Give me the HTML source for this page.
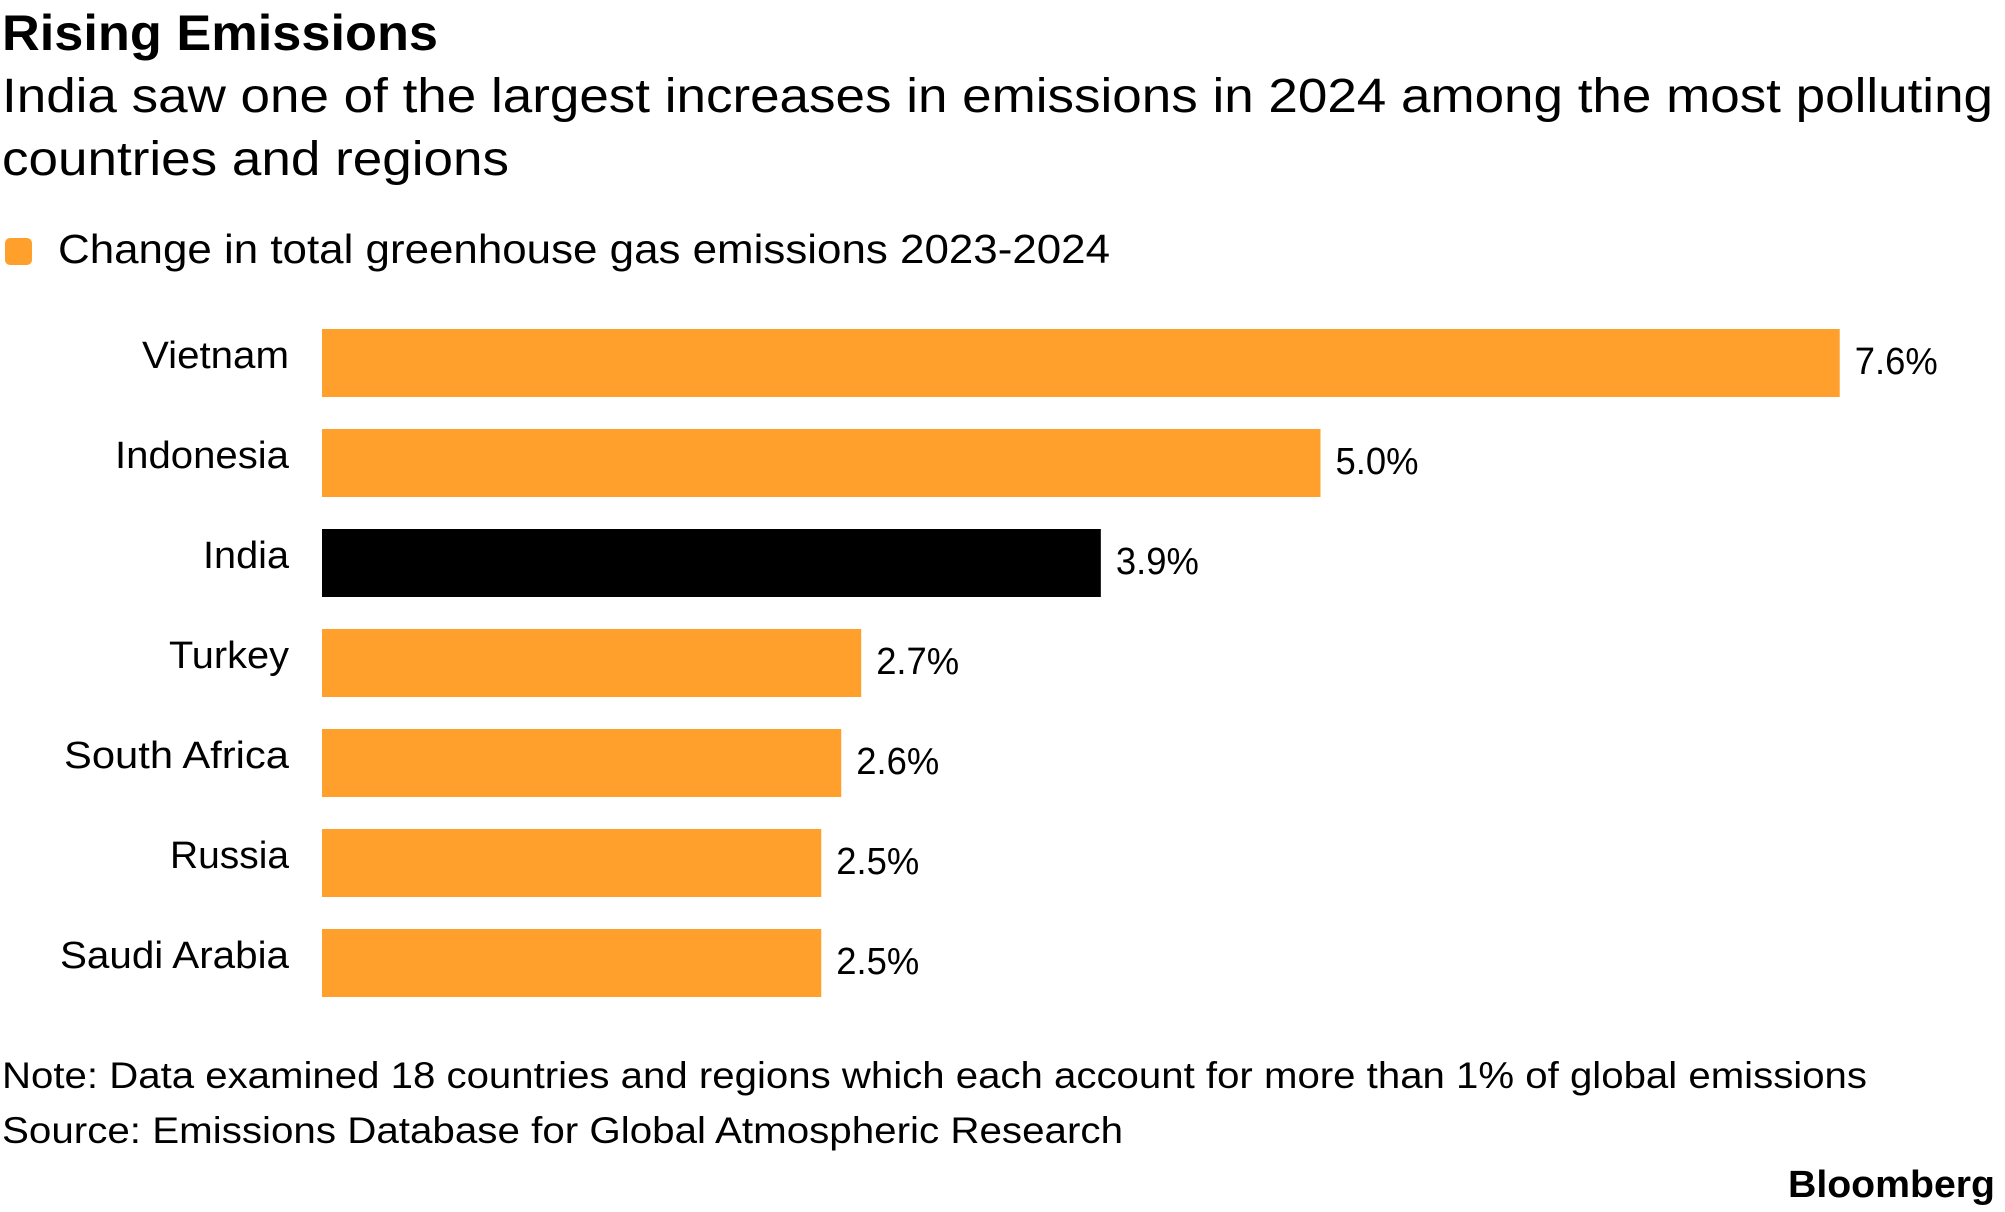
<!DOCTYPE html>
<html><head><meta charset="utf-8"><style>
html,body{margin:0;padding:0;background:#fff;}
svg{display:block;font-family:"Liberation Sans",sans-serif;}
</style></head><body>
<svg id="chart" width="2005" height="1212" viewBox="0 0 2005 1212">
<text x="2" y="50" font-size="50" font-weight="bold" fill="#000" textLength="436" lengthAdjust="spacingAndGlyphs">Rising Emissions</text>
<text x="2" y="112" font-size="48" fill="#000" textLength="1991" lengthAdjust="spacingAndGlyphs">India saw one of the largest increases in emissions in 2024 among the most polluting</text>
<text x="2" y="175" font-size="48" fill="#000" textLength="507" lengthAdjust="spacingAndGlyphs">countries and regions</text>
<rect x="5" y="238" width="27" height="27" rx="5" fill="#FFA02D"/>
<text x="58" y="263" font-size="41" fill="#000" textLength="1052" lengthAdjust="spacingAndGlyphs">Change in total greenhouse gas emissions 2023-2024</text>
<g id="bars"></g>
<text x="2" y="1088" font-size="37" fill="#000" textLength="1865" lengthAdjust="spacingAndGlyphs">Note: Data examined 18 countries and regions which each account for more than 1% of global emissions</text>
<text x="2" y="1143" font-size="37" fill="#000" textLength="1121" lengthAdjust="spacingAndGlyphs">Source: Emissions Database for Global Atmospheric Research</text>
<text x="1788" y="1197" font-size="38" font-weight="bold" fill="#000" textLength="207" lengthAdjust="spacingAndGlyphs">Bloomberg</text>
</svg>
<script>
const categories = ["Vietnam","Indonesia","India","Turkey","South Africa","Russia","Saudi Arabia"];
const values = [7.6, 5.0, 3.9, 2.7, 2.6, 2.5, 2.5];
const valueLabels = ["7.6%","5.0%","3.9%","2.7%","2.6%","2.5%","2.5%"];
const highlight = "India";

const NS = "http://www.w3.org/2000/svg";
const labelFit = {"Vietnam":147,"Indonesia":174,"India":86,"Turkey":120,"South Africa":225,"Russia":119,"Saudi Arabia":229};
const x0 = 322, pxPer = 199.7;
function xScale(v){ return x0 + v * pxPer; }
function yScale(i){ return 329 + i * 100; }
const barH = 68;
const g = document.getElementById('bars');
categories.forEach((c, i) => {
  const y = yScale(i);
  const r = document.createElementNS(NS, 'rect');
  r.setAttribute('x', x0);
  r.setAttribute('y', y);
  r.setAttribute('width', xScale(values[i]) - x0);
  r.setAttribute('height', barH);
  r.setAttribute('fill', c === highlight ? '#000000' : '#FFA02D');
  
  
  g.appendChild(r);
  const t = document.createElementNS(NS, 'text');
  t.setAttribute('x', 289);
  t.setAttribute('y', y + barH / 2 + 5);
  t.setAttribute('text-anchor', 'end');
  t.setAttribute('font-size', '38');
  if (labelFit[c]) {
    t.setAttribute('textLength', labelFit[c]);
    t.setAttribute('lengthAdjust', 'spacingAndGlyphs');
  }
  t.textContent = c;
  
  
  g.appendChild(t);
  const v = document.createElementNS(NS, 'text');
  v.setAttribute('x', xScale(values[i]) + 15);
  v.setAttribute('y', y + barH / 2 + 11);
  v.setAttribute('font-size', '38');
  v.setAttribute('textLength', '83');
  v.setAttribute('lengthAdjust', 'spacingAndGlyphs');
  v.textContent = valueLabels[i];
  
  
  g.appendChild(v);
});
</script>
</body></html>
